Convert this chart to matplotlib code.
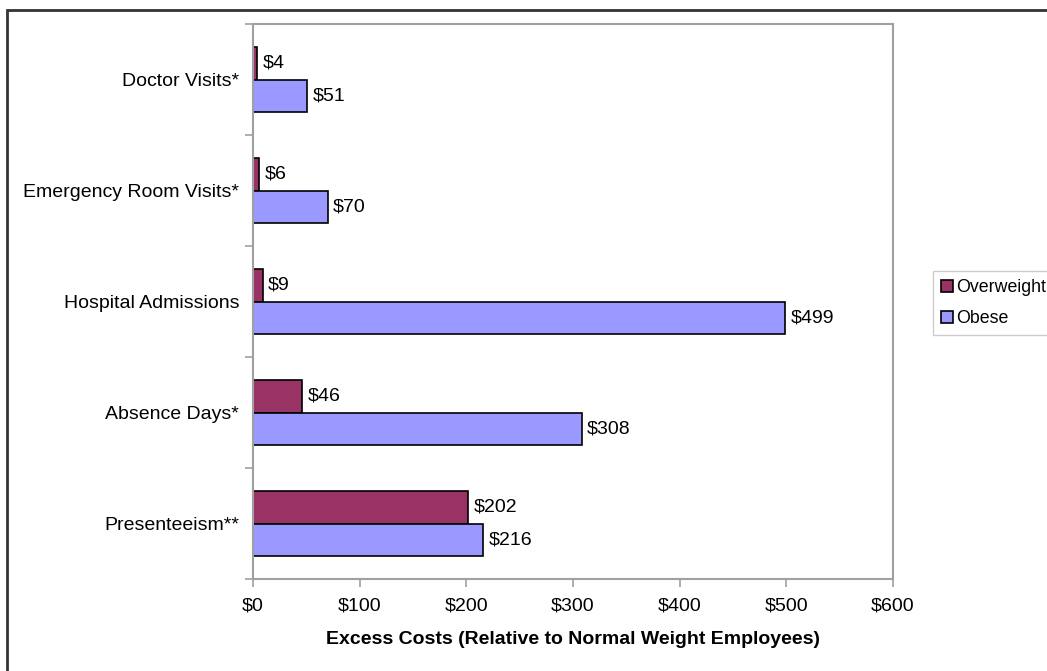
import numpy as np
import matplotlib.pyplot as plt
from matplotlib.patches import Rectangle

plt.rcParams["font.family"] = ["Liberation Sans", "DejaVu Sans"]

categories = [
    "Doctor Visits*",
    "Emergency Room Visits*",
    "Hospital Admissions",
    "Absence Days*",
    "Presenteeism**",
]
overweight = [4, 6, 9, 46, 202]
obese = [51, 70, 499, 308, 216]

fig = plt.figure(figsize=(10.47, 6.71), dpi=100)
ax = fig.add_axes([0.2416, 0.1371, 0.6113, 0.8271])

y = np.arange(len(categories))
h = 0.295
b1 = ax.barh(y - h / 2, overweight, height=h, color="#993366",
             edgecolor="black", linewidth=1.2, label="Overweight")
b2 = ax.barh(y + h / 2, obese, height=h, color="#9999FF",
             edgecolor="black", linewidth=1.2, label="Obese")

for bars, vals in ((b1, overweight), (b2, obese)):
    for bar, v in zip(bars, vals):
        ax.annotate(f"${v}", (bar.get_width(), bar.get_y() + bar.get_height() / 2),
                    xytext=(4, 0), textcoords="offset points",
                    va="center", ha="left", fontsize=14)

ax.set_ylim(len(categories) - 0.5, -0.5)
ax.set_xlim(0, 600)
ax.set_xticks(range(0, 601, 100))
ax.set_xticklabels([f"${t}" for t in range(0, 601, 100)], fontsize=14)
ax.set_yticks(y)
ax.set_yticklabels(categories, fontsize=14)
ax.tick_params(axis="y", length=0, pad=10)
ax.set_yticks(np.arange(-0.5, len(categories)), minor=True)
ax.tick_params(axis="y", which="minor", length=6, color="#a0a0a0", width=1.2)
ax.tick_params(axis="x", length=6, color="#a0a0a0", width=1.2, pad=7)
for s in ax.spines.values():
    s.set_color("#a0a0a0")
    s.set_linewidth(1.5)

ax.set_xlabel("Excess Costs (Relative to Normal Weight Employees)",
              fontsize=14, fontweight="bold", labelpad=12)

leg = fig.legend(loc="upper left", bbox_to_anchor=(933 / 1047, 1 - 271 / 671),
                 fontsize=12.8, frameon=True, fancybox=False, handlelength=0.65,
                 handleheight=0.65, handletextpad=0.22, borderpad=0.45,
                 labelspacing=0.8, borderaxespad=0)
leg.get_frame().set_edgecolor("#c0c0c0")
leg.get_frame().set_linewidth(1)

# outer chart frame
fig.patches.append(Rectangle((7 / 1047, -0.05), 1.1, 1 - 10 / 671 + 0.05,
                             transform=fig.transFigure, fill=False,
                             edgecolor="#333333", linewidth=2, clip_on=False))

fig.savefig("out.png", dpi=100)
